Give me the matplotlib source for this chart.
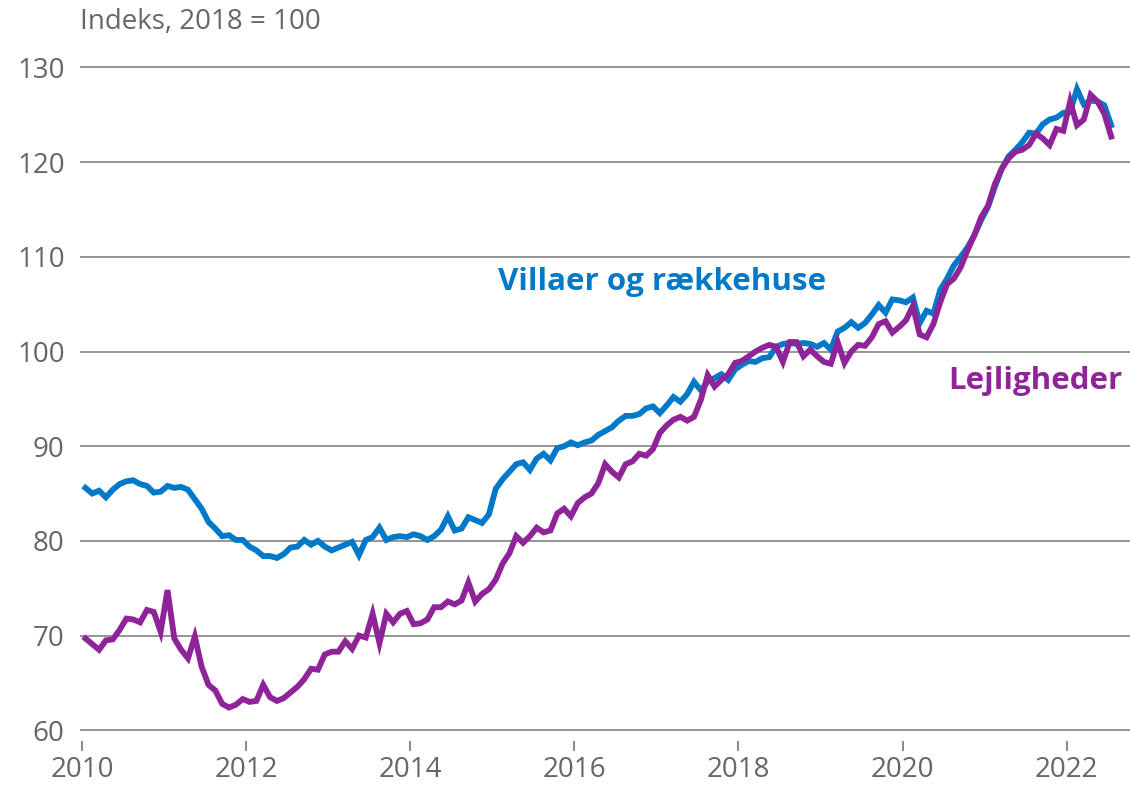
import numpy as np
import matplotlib
matplotlib.use("Agg")
import matplotlib.pyplot as plt

# maanedlige indeks, jan 2010 - jul 2022 (2018 = 100)
villa = [
    85.6, 85.0, 85.3, 84.6, 85.4, 86.0, 86.3, 86.4, 86.0, 85.8, 85.1, 85.2,  # 2010
    85.8, 85.6, 85.7, 85.4, 84.4, 83.4, 82.0, 81.3, 80.5, 80.6, 80.1, 80.1,  # 2011
    79.4, 79.0, 78.4, 78.4, 78.2, 78.6, 79.3, 79.4, 80.1, 79.6, 80.0, 79.4,  # 2012
    79.0, 79.3, 79.6, 79.9, 78.5, 80.1, 80.4, 81.4, 80.1, 80.4, 80.5, 80.4,  # 2013
    80.7, 80.5, 80.1, 80.5, 81.2, 82.6, 81.1, 81.3, 82.5, 82.2, 81.9, 82.8,  # 2014
    85.5, 86.5, 87.3, 88.1, 88.3, 87.5, 88.7, 89.2, 88.5, 89.8, 90.0, 90.4,  # 2015
    90.1, 90.4, 90.6, 91.2, 91.6, 92.0, 92.7, 93.2, 93.2, 93.4, 94.0, 94.2,  # 2016
    93.5, 94.3, 95.2, 94.7, 95.5, 96.8, 95.9, 96.8, 97.2, 97.6, 97.0, 98.1,  # 2017
    98.6, 99.0, 98.9, 99.3, 99.4, 100.5, 100.8, 100.9, 100.8, 100.9, 100.8, 100.5,  # 2018
    100.9, 100.2, 102.1, 102.5, 103.1, 102.5, 103.0, 103.9, 104.9, 104.1, 105.5, 105.4,  # 2019
    105.2, 105.7, 103.0, 104.3, 104.0, 106.5, 107.7, 109.1, 110.0, 111.0, 112.3, 113.9,  # 2020
    115.3, 117.4, 119.3, 120.6, 121.3, 122.1, 123.1, 123.0, 124.0, 124.5, 124.7, 125.2,  # 2021
    125.3, 127.7, 126.1, 126.5, 126.4, 126.0, 123.9,  # 2022
]

lejl = [
    69.7, 69.1, 68.5, 69.5, 69.6, 70.6, 71.8, 71.7, 71.4, 72.7, 72.5, 70.4,  # 2010
    74.8, 69.7, 68.5, 67.6, 69.9, 66.7, 64.8, 64.2, 62.8, 62.4, 62.7, 63.3,  # 2011
    63.0, 63.1, 64.8, 63.5, 63.1, 63.4, 64.0, 64.6, 65.4, 66.5, 66.4, 68.0,  # 2012
    68.3, 68.3, 69.4, 68.6, 70.0, 69.8, 72.3, 69.2, 72.3, 71.4, 72.3, 72.6,  # 2013
    71.2, 71.3, 71.7, 73.0, 73.0, 73.6, 73.3, 73.7, 75.6, 73.6, 74.4, 74.9,  # 2014
    75.9, 77.6, 78.7, 80.5, 79.8, 80.5, 81.4, 80.9, 81.1, 82.9, 83.4, 82.6,  # 2015
    84.0, 84.6, 85.0, 86.1, 88.1, 87.3, 86.7, 88.1, 88.4, 89.2, 89.0, 89.7,  # 2016
    91.4, 92.2, 92.8, 93.1, 92.7, 93.1, 94.9, 97.5, 96.3, 97.0, 97.6, 98.8,  # 2017
    99.0, 99.5, 100.0, 100.4, 100.7, 100.5, 98.9, 101.0, 101.0, 99.5, 100.2, 99.5,  # 2018
    98.9, 98.7, 101.0, 98.8, 100.0, 100.7, 100.6, 101.5, 102.9, 103.2, 102.0, 102.6,  # 2019
    103.3, 104.8, 101.8, 101.5, 102.9, 105.2, 107.1, 107.7, 108.9, 110.7, 112.3, 114.2,  # 2020
    115.4, 117.7, 119.3, 120.4, 121.1, 121.3, 121.8, 123.0, 122.5, 121.8, 123.5, 123.3,  # 2021
    126.4, 123.9, 124.5, 127.1, 126.4, 125.1, 122.7,  # 2022
]

start_year = 2010
x_ticks = [2010, 2012, 2014, 2016, 2018, 2020, 2022]
y_ticks = [60, 70, 80, 90, 100, 110, 120, 130]

blaa = "#0079c8"
lilla = "#8f2499"
graa = "#666666"

W, H = 1130, 788

plt.rcParams["font.family"] = ["Open Sans", "DejaVu Sans"]

# tid som decimalaar, midt i maaneden
t = start_year + (np.arange(len(villa)) + 0.5) / 12

fig = plt.figure(figsize=(W / 100, H / 100), dpi=100)
ax = fig.add_axes([80 / W, 1 - 741 / H, 1 - 80 / W, (741 - 60) / H])

for y in y_ticks:
    ax.axhline(y, color="#8c8c8c", lw=1.3, zorder=1)

ax.plot(t, villa, color=blaa, lw=4.2, solid_joinstyle="miter", zorder=3)
ax.plot(t, lejl, color=lilla, lw=4.2, solid_joinstyle="miter", zorder=4)

ax.set_xlim(2010 - 2 / 82.06, 2010 + (W - 82) / 82.06)
ax.set_ylim(60 - (741 - 730.3) / 9.47, 60 + (730.3 - 60) / 9.47)

ax.set_xticks(x_ticks)
ax.set_yticks(y_ticks)
ax.tick_params(axis="x", length=7, width=1.2, color="#777777", pad=4,
               labelsize=20, labelcolor=graa)
ax.tick_params(axis="y", length=0, pad=11, labelsize=20, labelcolor=graa)
for s in ax.spines.values():
    s.set_visible(False)

# serienavne direkte i grafen
fig.text(662 / W, 1 - 282 / H, "Villaer og rækkehuse", ha="center", va="center",
         fontsize=22.5, fontweight="bold", color=blaa)
fig.text(1035 / W, 1 - 381 / H, "Lejligheder", ha="center", va="center",
         fontsize=22.5, fontweight="bold", color=lilla)

fig.text(80 / W, 1 - 22 / H, "Indeks, 2018 = 100", ha="left", va="center",
         fontsize=20, color=graa)

fig.savefig("out.png", dpi=100)
